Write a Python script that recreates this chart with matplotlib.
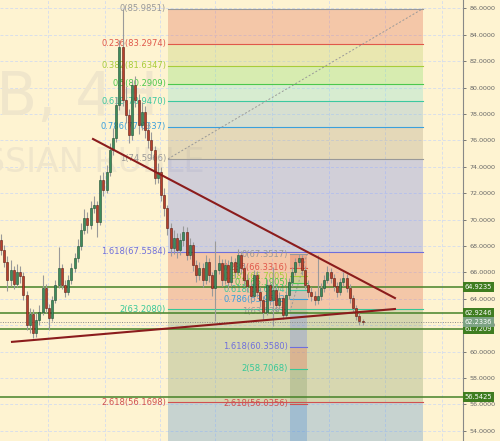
import numpy as np
import matplotlib
matplotlib.use('Agg')
import matplotlib.pyplot as plt
import matplotlib.transforms as mtransforms

# USDRUB candles, open of a bar = close of the bar before
first_open = 68.45
closes = [67.69, 66.79, 65.43, 66.18, 65.12, 66.03, 65.73, 64.29, 62.02, 62.85,
          61.42, 62.40, 63.00, 64.82, 63.31, 62.55, 63.91, 65.05, 66.33, 65.05,
          64.52, 65.43, 66.33, 67.09, 68.00, 69.21, 70.11, 69.58, 70.87, 71.10,
          69.81, 72.99, 72.23, 73.59, 75.26, 76.17, 78.66, 83.06, 79.04, 77.91,
          76.39, 80.18, 79.04, 77.15, 78.13, 76.77, 76.02, 75.26, 73.14, 73.59,
          71.85, 70.87, 69.36, 67.85, 68.60, 67.69, 68.45, 69.06, 67.32, 68.07,
          66.56, 65.80, 66.33, 65.43, 66.79, 65.80, 64.82, 66.18, 66.71, 65.43,
          66.56, 65.27, 66.79, 66.03, 67.32, 66.33, 65.43, 64.97, 64.21, 65.80,
          64.52, 63.91, 63.00, 65.05, 63.91, 64.67, 63.53, 64.06, 62.78, 64.29,
          65.27, 66.03, 66.79, 67.09, 66.18, 65.05, 64.52, 64.21, 63.91, 64.21,
          64.82, 65.43, 66.03, 65.58, 64.97, 64.52, 65.27, 65.58, 64.82, 64.06,
          63.31, 62.70, 62.30, 62.2336]
highs = [68.9, 68.1, 67.2, 66.9, 66.5, 66.6, 66.5, 66.0, 64.6, 63.3,
         63.2, 62.9, 63.5, 65.8, 65.1, 63.6, 64.2, 65.4, 67.9, 66.6,
         65.4, 65.8, 66.7, 67.5, 68.5, 69.7, 70.8, 70.6, 71.4, 71.8,
         71.4, 73.4, 73.6, 74.1, 75.8, 76.9, 79.3, 83.6, 85.9851, 80.1,
         78.4, 80.6, 80.9, 79.5, 78.9, 78.6, 77.4, 76.6, 75.6, 74.3,
         74.0, 72.4, 71.1, 69.7, 69.2, 69.0, 69.0, 69.5, 69.4, 68.6,
         68.3, 66.9, 66.8, 66.7, 67.3, 67.1, 66.0, 68.4, 67.3, 67.0,
         67.0, 66.9, 67.2, 67.1, 67.8, 67.6, 66.7, 65.9, 65.3, 66.2,
         66.1, 64.9, 64.2, 65.5, 65.3, 66.4, 65.0, 64.5, 64.3, 64.6,
         65.6, 66.4, 67.1, 67.3517, 67.3, 66.5, 65.4, 64.9, 64.6, 67.3,
         65.2, 65.8, 66.5, 66.3, 65.9, 65.3, 65.6, 66.0, 65.9, 65.1,
         64.3, 63.5, 62.9, 62.5]
lows = [67.3, 66.4, 64.6, 65.0, 64.7, 64.9, 65.2, 63.9, 61.6, 61.4,
        61.0, 61.1, 62.0, 62.8, 62.9, 61.6, 62.3, 63.7, 64.8, 64.7,
        64.1, 64.3, 65.1, 66.0, 66.8, 67.7, 68.9, 69.0, 69.3, 70.5,
        68.7, 69.6, 71.8, 72.0, 73.3, 74.9, 75.9, 78.3, 78.6, 77.3,
        75.8, 76.0, 78.5, 76.5, 76.8, 76.2, 75.4, 74.6, 72.7, 72.8,
        71.4, 70.3, 68.8, 67.2, 67.4, 67.1, 67.3, 68.0, 66.9, 67.0,
        66.1, 65.3, 65.4, 64.9, 65.1, 65.3, 64.2, 62.3, 65.9, 65.0,
        65.1, 64.8, 65.0, 65.6, 65.8, 65.9, 65.0, 64.5, 63.7, 63.9,
        64.1, 63.4, 62.5, 62.8, 63.5, 61.9, 63.1, 63.2, 62.5, 62.6,
        64.0, 65.0, 65.8, 66.5, 65.8, 64.7, 64.1, 63.8, 63.5, 63.6,
        63.9, 64.5, 65.2, 65.2, 64.6, 64.1, 64.3, 65.0, 64.5, 63.7,
        62.9, 62.4, 62.0, 62.0]

# fibonacci retracements (last value = lower edge of the last band, 3.618)
fib_levels = [0, 0.236, 0.382, 0.5, 0.618, 0.786, 1, 1.618, 2, 2.618, 3.618]
fib1_prices = [85.9851, 83.2974, 81.6347, 80.2909, 78.9470, 77.0337, 74.5966,
               67.5584, 63.2080, 56.1698, 44.7810]
fib2_prices = [67.3517, 66.3316, 65.7005, 65.1905, 64.6804, 63.9543, 63.0293,
               60.3580, 58.7068, 56.0356, 51.7133]
fib1_span = (52.2, 131.9)
fib2_span = (90.3, 95.6)

# horizontal support/resistance lines and last price
h_levels = [64.9235, 62.9246, 61.7209, 56.5425]
last_price = 62.2336

# trend lines (bar index, price)
down_x, down_y = [28.75, 123.1], [76.10, 64.05]
up_x, up_y = [3.44, 123.1], [60.73, 63.22]

yticks = np.arange(54, 87, 2)
xgrid = [14.69, 32.5, 49.69, 66.87, 84.69, 102.5, 120.0, 137.8]

bg = '#fef3d1'
line_cols = ['#999999', '#e0584a', '#a8cc3a', '#4cc84c', '#3cc8a0', '#3aa0dc',
             '#999999', '#6f6fdc', '#38c898', '#d05050']
band_cols = ['#e0644b', '#bbce65', '#7fdc65', '#7fdcd0', '#7fb4d0', '#a89c80',
             '#6b7eeb', '#e0644b', '#7f9965', '#4a8cd0']

fig = plt.figure(figsize=(5, 4.41), dpi=100, facecolor=bg)
ax = fig.add_axes([0, 0, 463 / 500, 1])
ax.set_facecolor(bg)
ax.set_xlim(-0.3125, 144.375)
ax.set_ylim(53.22, 86.63)

# grid
for g in xgrid:
    ax.axvline(g, color='#d9dfea', lw=0.7, ls=(0, (3, 2)), zorder=0.5)
for t in yticks:
    ax.axhline(t, color='#d9dfea', lw=0.7, ls=(0, (3, 2)), zorder=0.5)

# watermark
def px(x, y):
    return x / 463, 1 - y / 441

ax.text(*px(-217, 115), 'USDRUB, 4H', transform=ax.transAxes, fontsize=43,
        color='#f0e6cb', ha='left', va='baseline', zorder=0.6, clip_on=True)
ax.text(*px(205, 172), 'U.S. DOLLAR / RUSSIAN RUBLE', transform=ax.transAxes,
        fontsize=24, color='#f0e6cb', ha='right', va='baseline', zorder=0.6,
        clip_on=True)


def draw_fib(prices, span, label_x):
    for k in range(len(fib_levels) - 1):
        ax.fill_between(span, prices[k + 1], prices[k], color=band_cols[k],
                        alpha=0.3, lw=0, zorder=1)
    for k in range(len(fib_levels) - 1):
        ax.plot(span, [prices[k]] * 2, color=line_cols[k], lw=0.8, zorder=1.5)
        ax.text(label_x, prices[k], '%g(%.4f)' % (fib_levels[k], prices[k]),
                color=line_cols[k], fontsize=6, ha='right', va='center',
                zorder=2)
    ax.plot(span, [prices[6], prices[0]], color='#999999', lw=0.7,
            ls=(0, (2, 2)), zorder=1.6)


draw_fib(fib1_prices, fib1_span, fib1_span[0] - 0.6)
draw_fib(fib2_prices, fib2_span, fib2_span[0] - 0.6)

# horizontal levels
trans = mtransforms.blended_transform_factory(ax.transAxes, ax.transData)
for lv in h_levels:
    ax.axhline(lv, color='#468228', lw=1.1, zorder=2.8)
    ax.text(1.004, lv, '%.4f' % lv, transform=trans, fontsize=4.8,
            color='white', ha='left', va='center', clip_on=False,
            bbox=dict(boxstyle='square,pad=0.3', fc='#3f7d20', ec='none'))
ax.axhline(last_price, color='#8a8a8a', lw=0.7, ls=(0, (1, 1.5)), zorder=2.8)
ax.text(1.004, last_price, '%.4f' % last_price, transform=trans, fontsize=4.8,
        color='white', ha='left', va='center', clip_on=False,
        bbox=dict(boxstyle='square,pad=0.3', fc='#7ca383', ec='none'))

# candles
opens = [first_open] + closes[:-1]
idx = np.arange(len(closes))
ax.vlines(idx, lows, highs, color='#9a9a9a', lw=0.8, zorder=3)
for i in idx:
    o, c = opens[i], closes[i]
    up = c >= o
    ax.bar(i, c - o if c != o else 0.05, bottom=o, width=0.62,
           color='#3d8c5c' if up else '#b8402c',
           edgecolor='#1f4d32' if up else '#5c1c12', lw=0.4, zorder=3.2)

# trend lines
ax.plot(down_x, down_y, color='#8b1c1c', lw=1.5, zorder=4)
ax.plot(up_x, up_y, color='#8b1c1c', lw=1.5, zorder=4)

# right price axis
ax.yaxis.tick_right()
ax.set_yticks(yticks)
ax.set_yticklabels(['%.4f' % t for t in yticks])
ax.tick_params(axis='y', labelsize=4.6, colors='#666666', length=2.5, pad=2,
               width=0.6)
ax.set_xticks([])
for s in ['top', 'left', 'bottom']:
    ax.spines[s].set_visible(False)
ax.spines['right'].set_color('#888888')
ax.spines['right'].set_linewidth(0.8)

fig.savefig('out.png', dpi=100, facecolor=bg)
